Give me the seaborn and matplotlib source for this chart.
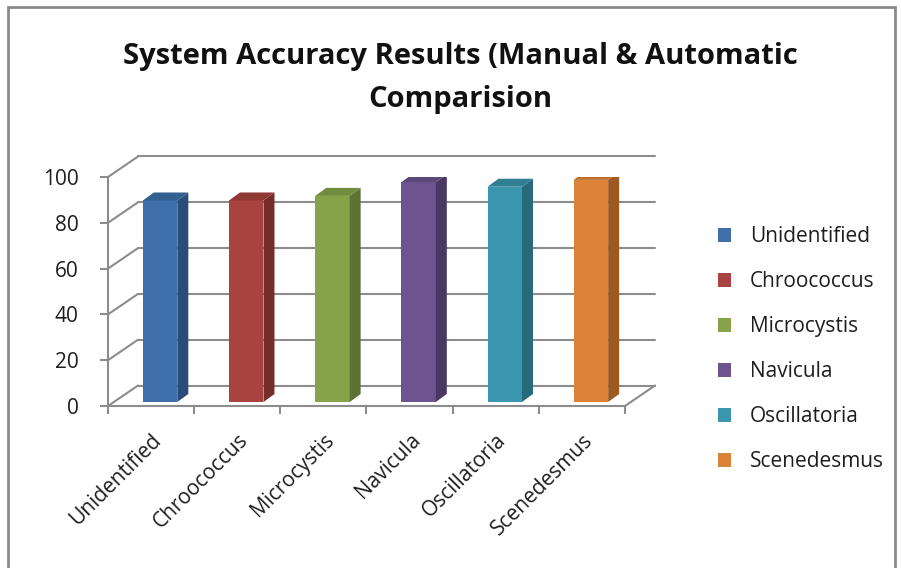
import matplotlib
matplotlib.use('Agg')
import matplotlib.pyplot as plt
import matplotlib.transforms as mtransforms
from matplotlib.patches import Polygon, Rectangle, Patch
import seaborn as sns
import pandas as pd
import numpy as np

categories = ['Unidentified', 'Chroococcus', 'Microcystis', 'Navicula', 'Oscillatoria', 'Scenedesmus']
accuracy = [88, 88, 90, 96, 94, 97]
front_colors = ['#3F6FAA', '#A9433F', '#86A34A', '#6D5490', '#3A97AF', '#DC8338']
side_colors = ['#2B4C78', '#752C2A', '#5C7333', '#4A3863', '#276A7B', '#9C5A22']
top_colors = ['#34608F', '#8F3835', '#718C3E', '#5C4779', '#307F93', '#BD6E2C']
yticks = [0, 20, 40, 60, 80, 100]
title = 'System Accuracy Results (Manual & Automatic\nComparision'

sns.set_theme(style='white')
plt.rcParams['font.family'] = ['Open Sans', 'DejaVu Sans']

W, H = 901, 568
fig = plt.figure(figsize=(W / 100, H / 100), dpi=100)


def fx(px):
    return px / W


def fy(py):
    return 1 - py / H


grid_col = '#8C8C8C'
text_col = '#1E1E1E'

# outer chart frame
fig.patches.append(Rectangle((fx(8), fy(575)), fx(895) - fx(8), fy(7) - fy(575),
                             transform=fig.transFigure, fill=False, ec='#8A8A8A', lw=2))

ax = fig.add_axes([fx(108), fy(406), fx(625) - fx(108), fy(177) - fy(406)])
ax.patch.set_alpha(0)

df = pd.DataFrame({'organism': categories, 'accuracy': accuracy})
sns.barplot(data=df, x='organism', y='accuracy', hue='organism', palette=front_colors,
            width=0.4, saturation=1, legend=False, ax=ax, zorder=3)
ax.set_xlim(-0.5, 5.5)
ax.set_ylim(0, 100)

# pixel -> data unit factors
ux = (625 - 108) / 6.0
uy = (406 - 177) / 100.0

# back wall gridlines and left-wall diagonals
bdx, bdy = 30 / ux, 20.5 / uy
for v in yticks:
    ax.plot([-0.5 + bdx, 5.5 + bdx], [v + bdy, v + bdy], color=grid_col, lw=1.5,
            clip_on=False, zorder=1)
    ax.plot([-0.5, -0.5 + bdx], [v, v + bdy], color=grid_col, lw=1.5, clip_on=False, zorder=1)
ax.plot([5.5, 5.5 + bdx], [0, bdy], color=grid_col, lw=1.5, clip_on=False, zorder=1)

# pseudo-3D bars: shift front faces into depth, add side and top faces
shift = mtransforms.ScaledTranslation(9 / 100, 4 / 100, fig.dpi_scale_trans)
ddx, ddy = 11 / ux, 8 / uy
for i, p in enumerate(ax.patches):
    p.set_transform(ax.transData + shift)
    p.set_edgecolor('none')
    x0 = p.get_x()
    x1 = x0 + p.get_width()
    h = p.get_height()
    side = Polygon([(x1, 0), (x1 + ddx, ddy), (x1 + ddx, h + ddy), (x1, h)],
                   closed=True, fc=side_colors[i], ec='none', zorder=3,
                   transform=ax.transData + shift)
    top = Polygon([(x0, h), (x0 + ddx, h + ddy), (x1 + ddx, h + ddy), (x1, h)],
                  closed=True, fc=top_colors[i], ec='none', zorder=3,
                  transform=ax.transData + shift)
    ax.add_patch(side)
    ax.add_patch(top)

for s in ['top', 'right']:
    ax.spines[s].set_visible(False)
for s in ['left', 'bottom']:
    ax.spines[s].set_color(grid_col)
    ax.spines[s].set_linewidth(1.5)

ax.set_yticks(yticks)
ax.set_yticklabels([str(t) for t in yticks])
ax.tick_params(axis='y', direction='out', length=6, width=1.5, color=grid_col,
               pad=15, labelsize=15, labelcolor=text_col, left=True)

ax.set_xticks(np.arange(-0.5, 6, 1))
ax.set_xticklabels([])
ax.set_xticks(range(len(categories)), minor=True)
ax.set_xticklabels(categories, minor=True, rotation=45, ha='right',
                   rotation_mode='anchor', fontsize=15, color=text_col)
ax.tick_params(axis='x', which='major', direction='out', length=6, width=1.5,
               color=grid_col, bottom=True)
ax.tick_params(axis='x', which='minor', length=0, pad=17, bottom=True)
ax.set_xlabel('')
ax.set_ylabel('')

fig.text(fx(460), fy(78), title, ha='center', va='center', fontsize=21,
         fontweight='bold', color='#111111', linespacing=1.6)

handles = [Patch(fc=c, ec='none') for c in front_colors]
fig.legend(handles, categories, loc='center left', bbox_to_anchor=(fx(699), fy(349)),
           frameon=False, fontsize=15, handlelength=0.65, handleheight=0.65,
           labelspacing=1.15, handletextpad=0.9, labelcolor=text_col)

fig.savefig('out.png', dpi=100)
